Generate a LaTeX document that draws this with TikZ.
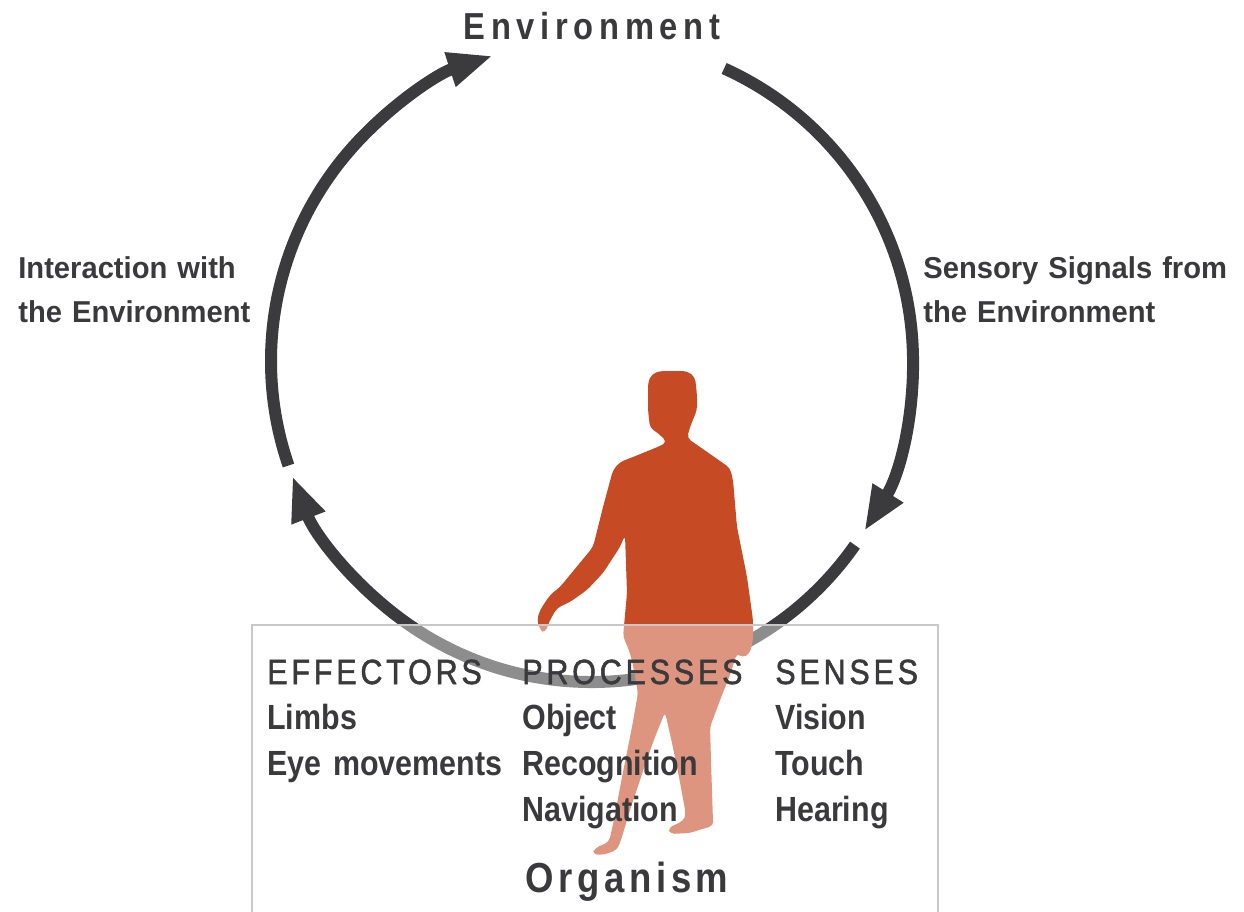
\documentclass[tikz,border=0pt]{standalone}
\usepackage{fontspec}
\setmainfont{Liberation Sans}
\newfontfamily\widefont[LetterSpace=15,FakeStretch=0.87]{Liberation Sans}
\newfontfamily\spacedfont[LetterSpace=11,FakeStretch=0.87]{Liberation Sans}
\newfontfamily\headfont[LetterSpace=11,FakeStretch=0.87,UprightFeatures={FakeBold=1.5}]{Liberation Sans}
\newfontfamily\narrowfont[FakeStretch=0.87]{Liberation Sans}
\newfontfamily\sidefont[FakeStretch=0.965]{Liberation Sans}
\usetikzlibrary{positioning}
\usetikzlibrary{arrows.meta}
\definecolor{loopC}{HTML}{3B3B3D}
\definecolor{txtC}{HTML}{3A3A3C}
\definecolor{walkC}{HTML}{C64A24}
\definecolor{boxC}{HTML}{C8C8C8}
\tikzstyle{cyc}=[line width=0.24cm, color=loopC, -{Triangle[length=0.9cm,width=0.66cm]}]
\tikzstyle{envtxt}=[inner sep=0, anchor=base, text=txtC, font=\widefont\bfseries\fontsize{21.4}{24}\selectfont]
\tikzstyle{orgtxt}=[inner sep=0, anchor=base, text=txtC, font=\spacedfont\bfseries\fontsize{23.9}{26}\selectfont]
\tikzstyle{sidetxt}=[node distance=0cm, inner sep=0, text width=6.2cm, align=left, minimum height=0.88cm, text height=12pt, text depth=3.5pt, text=txtC, font=\sidefont\bfseries\fontsize{17.2}{20}\selectfont]
\tikzstyle{colhead}=[node distance=0cm, inner sep=0, text width=4.9cm, align=left, minimum height=0.9cm, text height=14pt, text depth=4pt, text=txtC, font=\headfont\fontsize{19.9}{24}\selectfont]
\tikzstyle{coltxt}=[node distance=0cm, inner sep=0, text width=4.9cm, align=left, minimum height=0.9cm, text height=14pt, text depth=4pt, text=txtC, font=\narrowfont\bfseries\fontsize{19.9}{24}\selectfont]
\def\sidetxt{\node[style=sidetxt]}
\def\colhead{\node[style=colhead]}
\def\coltxt{\node[style=coltxt]}
\begin{document}
\begin{tikzpicture}[x=0.02cm, y=0.02cm]
      \useasboundingbox (0,0) rectangle (1244,-912);
      % loop
      \coordinate (centre) at (592,-361);
      \path (centre) ++(199:321)  coordinate (Lstart)
            (centre) ++(65.7:321) coordinate (Rstart)
            (centre) ++(-35:321)  coordinate (Bstart);
      \draw[style=cyc] (Lstart) arc[start angle=199,  end angle=108,  radius=321];
      \draw[style=cyc] (Rstart) arc[start angle=65.7, end angle=-32,  radius=321];
      \draw[style=cyc] (Bstart) arc[start angle=-35,  end angle=-159, radius=321];
      % walker
      \fill[walkC, rounded corners=2.5] (648,-382) -- (652,-374) -- (660,-371) -- (687,-371)
            -- (695,-377) -- (697,-395) -- (697,-410)
            -- (690,-427) -- (687,-438) -- (700,-447) -- (730,-468) -- (733,-480)
            -- (737,-527) -- (747,-577) -- (753,-620) -- (753,-640) -- (750,-653)
            -- (743,-658) -- (737,-653) -- (730,-675) -- (722,-695) -- (710,-727)
            -- (711,-760) -- (713,-822) -- (713,-826) -- (702,-829) -- (690,-833)
            -- (670,-834) -- (668,-828) -- (683,-821) -- (686,-815) -- (679,-777)
            -- (672,-743) -- (665,-712) -- (655,-737) -- (646,-762) -- (630,-810)
            -- (621,-840) -- (617,-850) -- (603,-855) -- (592,-854) -- (595,-848)
            -- (609,-842) -- (614,-820) -- (622,-777) -- (632,-727) -- (638,-693)
            -- (632,-660) -- (627,-645) -- (623,-637) -- (627,-593) -- (625,-535)
            -- (620,-547) -- (603,-573) -- (587,-590) -- (570,-602) -- (557,-608)
            -- (550,-620) -- (545,-633) -- (540,-630) -- (537,-620) -- (540,-610)
            -- (550,-595) -- (560,-587) -- (593,-547) -- (603,-507) -- (613,-470)
            -- (620,-462) -- (633,-457) -- (660,-446) -- (667,-442) -- (658,-433)
            -- (650,-428) -- (648,-410) -- cycle;
      % organism box
      \fill[white, opacity=0.42] (252,-625) rectangle (938,-912);
      \draw[boxC, line width=0.8pt] (252,-912) |- (938,-625) -- (938,-912);
      % labels
      \node[style=envtxt] (env) at (592,-40) {Environment};
      \sidetxt (inter1) [anchor=base west] at (18,-278) {Interaction with};
      \sidetxt (inter2) [below=of inter1] {the Environment};
      \sidetxt (sense1) [anchor=base west] at (923,-278) {Sensory Signals from};
      \sidetxt (sense2) [below=of sense1] {the Environment};
      % columns
      \colhead (eff)  [anchor=base west] at (267,-684) {EFFECTORS};
      \coltxt  (eff1) [below=of eff]  {Limbs};
      \coltxt  (eff2) [below=of eff1] {Eye movements};
      \colhead (proc)  [anchor=base west] at (522,-684) {PROCESSES};
      \coltxt  (proc1) [below=of proc]  {Object};
      \coltxt  (proc2) [below=of proc1] {Recognition};
      \coltxt  (proc3) [below=of proc2] {Navigation};
      \colhead (sen)  [anchor=base west] at (775,-684) {SENSES};
      \coltxt  (sen1) [below=of sen]  {Vision};
      \coltxt  (sen2) [below=of sen1] {Touch};
      \coltxt  (sen3) [below=of sen2] {Hearing};
      \node[style=orgtxt] (org) at (627,-892) {Organism};
\end{tikzpicture}
\end{document}
